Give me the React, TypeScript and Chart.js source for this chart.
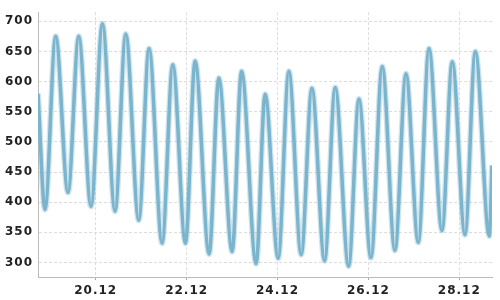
import React, { useEffect, useRef } from 'react';
import { Chart, registerables } from 'chart.js';

Chart.register(...registerables);

// Time in days of December (fractional), water level values
const times = [
  18.73, 18.884, 19.119, 19.39, 19.626, 19.897, 20.148, 20.425, 20.661, 20.947,
  21.174, 21.46, 21.696, 21.975, 22.187, 22.495, 22.709, 23.002, 23.209, 23.53,
  23.728, 24.015, 24.25, 24.521, 24.757, 25.036, 25.27, 25.565, 25.792, 26.056,
  26.305, 26.584, 26.827, 27.098, 27.333, 27.619, 27.846, 28.126, 28.353, 28.661,
  28.72,
];
const levels = [
  580, 388, 675, 416, 675, 393, 696, 385, 679, 370,
  655, 332, 628, 332, 634, 314, 606, 318, 617, 298,
  579, 307, 617, 313, 589, 303, 590, 294, 571, 308,
  625, 320, 613, 333, 655, 353, 633, 346, 650, 344,
  461,
];
const xTickDays = [20, 22, 24, 26, 28];
const monthLabel = '12';
const yTickValues = [300, 350, 400, 450, 500, 550, 600, 650, 700];
const yMin = 276;
const yMax = 715;

const tickFont = { family: 'DejaVu Sans', size: 12, weight: 'bold' as const };

export default function App() {
  const ref = useRef<HTMLCanvasElement>(null);
  useEffect(() => {
    const spacing = {
      id: 'spacing',
      beforeDraw(chart: any) {
        chart.ctx.letterSpacing = '1px';
      },
    };
    const points = times.map((t, i) => ({ x: t, y: levels[i] }));
    const chart = new Chart(ref.current!, {
      type: 'line',
      data: {
        datasets: [
          {
            data: points,
            borderColor: 'rgb(122,180,205)',
            borderWidth: 3.5,
            pointRadius: 0,
            cubicInterpolationMode: 'monotone',
            fill: false,
            order: 0,
          },
          {
            data: points,
            borderColor: 'rgba(122,180,205,0.35)',
            borderWidth: 6,
            pointRadius: 0,
            cubicInterpolationMode: 'monotone',
            fill: false,
            order: 1,
          },
        ],
      },
      options: {
        animation: false,
        responsive: false,
        layout: { padding: { top: 5, right: 8, left: 0, bottom: 0 } },
        plugins: { legend: { display: false }, tooltip: { enabled: false } },
        scales: {
          x: {
            type: 'linear',
            min: times[0],
            max: times[times.length - 1],
            afterBuildTicks: (s: any) => {
              s.ticks = xTickDays.map((v) => ({ value: v }));
            },
            afterFit: (s: any) => {
              s.height = 23;
            },
            ticks: {
              callback: (v: any) => `${v}.${monthLabel}`,
              font: tickFont,
              color: '#222',
              padding: 4,
              maxRotation: 0,
              autoSkip: false,
            },
            grid: { color: '#dddddd', tickColor: '#aaaaaa', tickLength: 3 },
            border: { color: '#bbbbbb', dash: [3, 2] },
          },
          y: {
            type: 'linear',
            min: yMin,
            max: yMax,
            afterBuildTicks: (s: any) => {
              s.ticks = yTickValues.map((v) => ({ value: v }));
            },
            afterFit: (s: any) => {
              s.width = 38;
            },
            ticks: { font: tickFont, color: '#222', padding: 5 },
            grid: { color: '#dddddd', drawTicks: false },
            border: { color: '#bbbbbb', dash: [3, 2] },
          },
        },
      },
      plugins: [spacing],
    } as any);
    return () => chart.destroy();
  }, []);
  return (
    <div style={{ position: 'absolute', left: 0, top: 0, width: 500, height: 300 }}>
      <canvas ref={ref} width={500} height={300} />
    </div>
  );
}
